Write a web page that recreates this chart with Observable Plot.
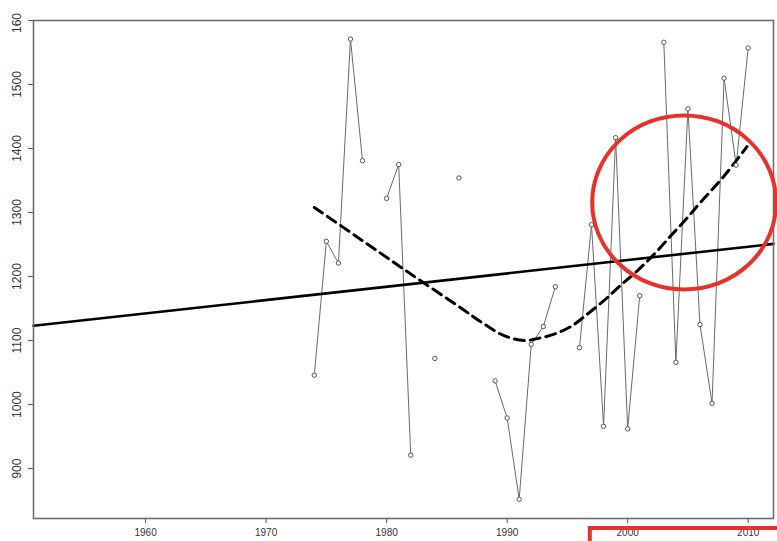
<!DOCTYPE html>
<html>
<head>
<meta charset="utf-8">
<script src="https://cdn.jsdelivr.net/npm/d3@7"></script>
<script src="https://cdn.jsdelivr.net/npm/@observablehq/plot@0.6"></script>
<style>
  html, body { margin: 0; padding: 0; background: #fff; }
  #chart svg { display: block; }
</style>
</head>
<body>
<div id="chart"></div>
<script>
// Observed series (null = missing year)
const years = [1974,1975,1976,1977,1978,1979,1980,1981,1982,1983,1984,1985,1986,1987,1988,1989,1990,1991,1992,1993,1994,1995,1996,1997,1998,1999,2000,2001,2002,2003,2004,2005,2006,2007,2008,2009,2010];
const values = [1046,1255,1221,1571,1381,null,1322,1375,921,null,1072,null,1354,null,null,1037,979,852,1094,1122,1184,null,1089,1281,966,1417,962,1170,null,1566,1066,1462,1125,1002,1510,1374,1557];

// Linear trend line (ends at plot edges)
const trendYears = [1950.7, 2012.1];
const trendValues = [1123, 1251];

// Dashed smooth curve
const smoothYears = [1974,1978,1982,1986,1988,1989.7,1991.4,1992.5,1993.9,1995.3,1996.5,1998,1999.4,2000.8,2002.2,2003.6,2005,2006,2008,2009.9];
const smoothValues = [1308,1256,1204,1153,1127,1108,1100,1103,1110,1122,1139,1162,1186,1209,1235,1264,1293,1315,1357,1403];

// Axis ticks
const xTicks = [1960,1970,1980,1990,2000,2010];
const yTicks = [900,1000,1100,1200,1300,1400,1500,1600];
const yTickLabels = ["900","1000","1100","1200","1300","1400","1500","160"];

const obs = years.map((y, i) => ({year: y, value: values[i]}));
const trend = trendYears.map((y, i) => ({year: y, value: trendValues[i]}));
const smooth = smoothYears.map((y, i) => ({year: y, value: smoothValues[i]}));
const yLab = yTicks.map((v, i) => ({value: v, label: yTickLabels[i]}));
const yLabMain = yLab.slice(0, -1);
const yLabTop = yLab[yLab.length - 1]; // truncated top label

const W = 777, H = 541;
const plot = Plot.plot({
  width: W,
  height: H,
  marginLeft: 33,
  marginRight: 4,
  marginTop: 20,
  marginBottom: 23,
  style: {fontFamily: "Liberation Sans, Arial, sans-serif", background: "#fff", overflow: "visible"},
  x: {domain: [1950.7, 2012.1]},
  y: {domain: [822, 1600]},
  marks: [
    Plot.line(obs, {x: "year", y: "value", stroke: "#6a6a6a", strokeWidth: 1}),
    Plot.line(trend, {x: "year", y: "value", stroke: "#000", strokeWidth: 2.6}),
    Plot.line(smooth, {x: "year", y: "value", stroke: "#000", strokeWidth: 3, strokeDasharray: "10,6", curve: "catmull-rom"}),
    Plot.dot(obs.filter(d => d.value != null), {x: "year", y: "value", r: 2.2, stroke: "#555", strokeWidth: 1, fill: "#fff"}),
    Plot.frame({stroke: "#6e6e6e", strokeWidth: 1.6}),
    Plot.axisX(xTicks, {tickSize: 5, tickPadding: 5, fontSize: 10, stroke: "#555", fill: "#333", tickFormat: d => String(d), label: null}),
    Plot.axisY(yTicks, {tickSize: 5, tickFormat: () => "", stroke: "#555", label: null}),
    Plot.text(yLabMain, {y: "value", text: "label", frameAnchor: "left", dx: -16, rotate: -90, textAnchor: "middle", lineAnchor: "middle", fontSize: 12, fill: "#333"})
  ]
});

document.getElementById("chart").appendChild(plot);

const sx = plot.scale("x"), sy = plot.scale("y");
const svg = d3.select(plot);

// Top (truncated) y tick label: positioned like a 4-digit label whose last digit is lost
const ty = sy.apply(yLabTop.value) + 13;
svg.append("text")
  .attr("transform", `translate(17,${ty}) rotate(-90)`)
  .attr("text-anchor", "start")
  .attr("dy", "0.32em")
  .attr("font-family", "Liberation Sans, Arial, sans-serif")
  .attr("font-size", 12)
  .attr("fill", "#333")
  .text(yLabTop.label);

// Red annotation overlays (positioned through the plot's scales)
const cx = sx.apply(2004.73), cy = sy.apply(1315);
const rx = sx.apply(2004.73 + 7.63) - cx;
const ry = sy.apply(1315) - sy.apply(1315 + 136);
svg.append("ellipse")
  .attr("cx", cx).attr("cy", cy).attr("rx", rx).attr("ry", ry)
  .attr("fill", "none").attr("stroke", "#e8312a").attr("stroke-width", 4);
const rx0 = sx.apply(1996.9);
svg.append("rect")
  .attr("x", rx0).attr("y", H - 13)
  .attr("width", W - rx0 + 10).attr("height", 30)
  .attr("fill", "none").attr("stroke", "#e8312a").attr("stroke-width", 4);
</script>
</body>
</html>
